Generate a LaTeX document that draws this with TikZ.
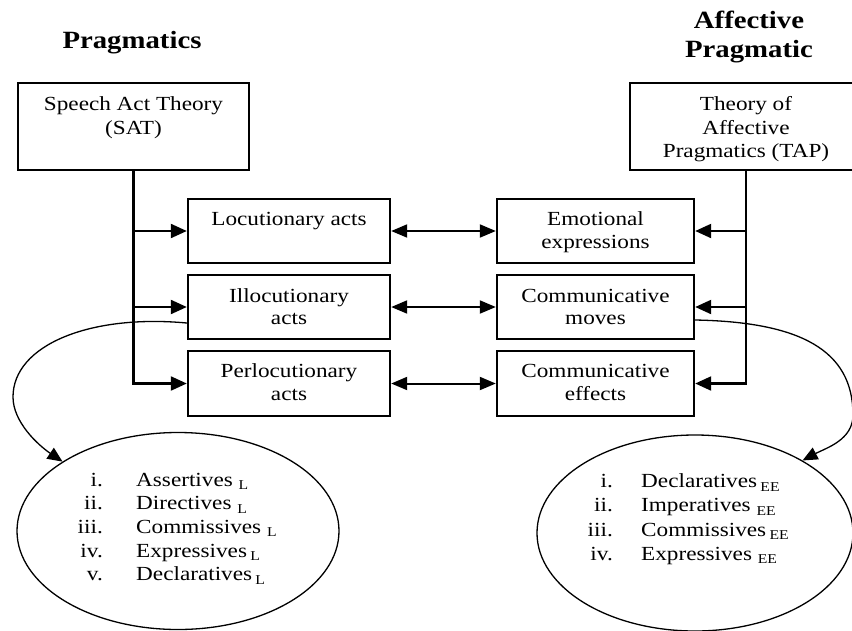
\documentclass[tikz,border=0pt]{standalone}
\usepackage{fontspec}
\setmainfont[FakeStretch=1.16]{Liberation Serif}
\usetikzlibrary{arrows.meta,shapes.geometric,calc}
\newcommand\sbx[1]{\raisebox{-3.5pt}{\fontsize{13.5}{13.5}\selectfont #1}}
\begin{document}
\begin{tikzpicture}[x=1pt,y=-1pt,
  box/.style={draw, line width=2.4pt, inner sep=0pt},
  txt/.style={anchor=base, inner sep=0pt, font=\fontsize{20}{23.5}\selectfont},
  ttl/.style={anchor=base, inner sep=0pt, font=\fontsize{24.8}{29}\selectfont\bfseries},
  conn/.style={line width=2.2pt},
  arr/.style={line width=2.2pt, -{Triangle[length=16pt,width=14pt]}},
  darr/.style={line width=2pt, {Triangle[length=16pt,width=13pt]}-{Triangle[length=16pt,width=13pt]}},
  arcarr/.style={line width=1.3pt, -{Triangle[length=15pt,width=13pt]}},
  ell/.style={draw, ellipse, line width=1.3pt, inner sep=0pt},
  num/.style={anchor=base east, inner sep=0pt, font=\fontsize{20}{23.5}\selectfont},
  itm/.style={anchor=base west, inner sep=0pt, font=\fontsize{20}{23.5}\selectfont}]
\clip (0,0) rectangle (852,630);
\fill[white] (0,0) rectangle (852,630);

% titles
\node[ttl] (t1) at (132,48) {Pragmatics};
\node[ttl] (t2a) at (749,28) {Affective};
\node[ttl] (t2b) at (749,57) {Pragmatic};

% top boxes
\node[box, minimum width=231pt, minimum height=87pt] (sat) at (133.5,126.5) {};
\node[txt] (sat1) at (133.5,110) {Speech Act Theory};
\node[txt] (sat2) at (133.5,134) {(SAT)};
\node[box, minimum width=232pt, minimum height=87pt] (tap) at (746,126.5) {};
\node[txt] (tap1) at (746,110) {Theory of};
\node[txt] (tap2) at (746,134) {Affective};
\node[txt] (tap3) at (746,157) {Pragmatics (TAP)};

% middle boxes
\node[box, minimum width=202pt, minimum height=64pt] (loc) at (289,231) {};
\node[txt] (loc1) at (289,225) {Locutionary acts};
\node[box, minimum width=202pt, minimum height=64pt] (ill) at (289,307) {};
\node[txt] (ill1) at (289,302) {Illocutionary};
\node[txt] (ill2) at (289,324) {acts};
\node[box, minimum width=202pt, minimum height=65pt] (per) at (289,383.5) {};
\node[txt] (per1) at (289,377) {Perlocutionary};
\node[txt] (per2) at (289,400) {acts};

\node[box, minimum width=197pt, minimum height=64pt] (emo) at (595.5,231) {};
\node[txt] (emo1) at (595.5,225) {Emotional};
\node[txt] (emo2) at (595.5,248) {expressions};
\node[box, minimum width=197pt, minimum height=64pt] (mov) at (595.5,307) {};
\node[txt] (mov1) at (595.5,302) {Communicative};
\node[txt] (mov2) at (595.5,324) {moves};
\node[box, minimum width=197pt, minimum height=65pt] (eff) at (595.5,383.5) {};
\node[txt] (eff1) at (595.5,377) {Communicative};
\node[txt] (eff2) at (595.5,400) {effects};

% ellipses
\node[ell, minimum width=322pt, minimum height=197pt] (ellL) at (178,531) {};
\node[ell, minimum width=316pt, minimum height=196pt] (ellR) at (695,533) {};

\node[num] (nl1) at (103,486) {i.};
\node[num] (nl2) at (103,509.7) {ii.};
\node[num] (nl3) at (103,533.4) {iii.};
\node[num] (nl4) at (103,557.1) {iv.};
\node[num] (nl5) at (103,580.8) {v.};
\node[itm] (il1) at (136,486) {Assertives \sbx{L}};
\node[itm] (il2) at (136,509.7) {Directives \sbx{L}};
\node[itm] (il3) at (136,533.4) {Commissives \sbx{L}};
\node[itm] (il4) at (136,557.1) {Expressives\,\sbx{L}};
\node[itm] (il5) at (136,580.8) {Declaratives\,\sbx{L}};

\node[num] (nr1) at (613,487.5) {i.};
\node[num] (nr2) at (613,511.8) {ii.};
\node[num] (nr3) at (613,536.1) {iii.};
\node[num] (nr4) at (613,560.4) {iv.};
\node[itm] (ir1) at (641,487.5) {Declaratives\,\sbx{EE}};
\node[itm] (ir2) at (641,511.8) {Imperatives \sbx{EE}};
\node[itm] (ir3) at (641,536.1) {Commissives\,\sbx{EE}};
\node[itm] (ir4) at (641,560.4) {Expressives \sbx{EE}};

% curved arrows
\coordinate (ls) at ($(ill.west)+(0,16)$);
\coordinate (lm) at (13,397);
\draw[arcarr] (ls) .. controls (90,314) and (13,345) .. (lm)
  .. controls (13,422) and (38,445) .. (ellL.149);
\coordinate (rs) at ($(mov.east)+(0,13)$);
\coordinate (rm) at (853,415);
\draw[arcarr] (rs) .. controls (800,322) and (853,350) .. (rm)
  .. controls (853,440) and (826,448) .. (ellR.34);

% connectors left
\draw[arr] (sat.south) |- (per.west);
\draw[arr] (sat.south |- loc.west) -- (loc.west);
\draw[arr] (sat.south |- ill.west) -- (ill.west);
% connectors right
\draw[arr] (tap.south) |- (eff.east);
\draw[arr] (tap.south |- emo.east) -- (emo.east);
\draw[arr] (tap.south |- mov.east) -- (mov.east);
% double arrows
\draw[darr] (loc.east) -- (emo.west);
\draw[darr] (ill.east) -- (mov.west);
\draw[darr] (per.east) -- (eff.west);
\end{tikzpicture}
\end{document}
